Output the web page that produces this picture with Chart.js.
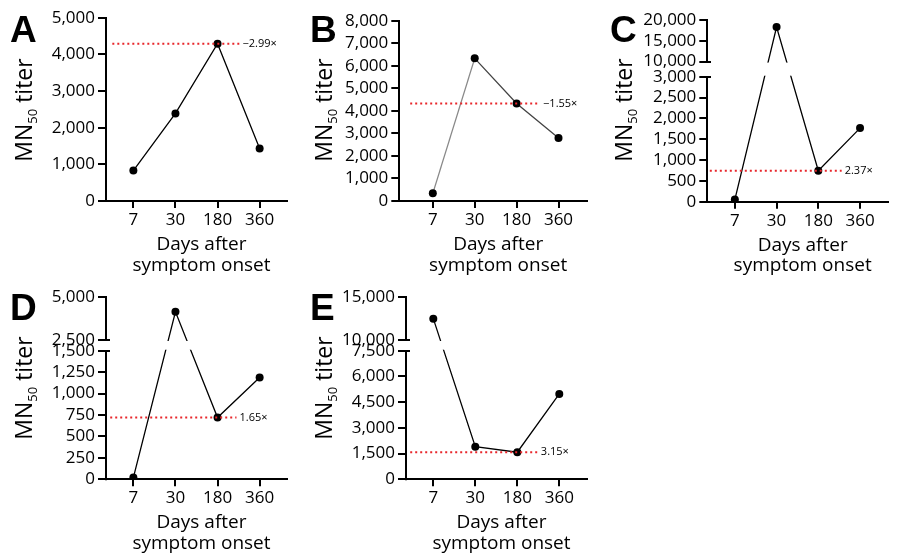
<!DOCTYPE html>
<html>
<head>
<meta charset="utf-8">
<script src="https://cdn.jsdelivr.net/npm/chart.js@4.4.1/dist/chart.umd.min.js"></script>
<style>
  body { margin: 0; background: #fff; }
  #wrap { position: relative; width: 900px; height: 556px; overflow: hidden; }
  .p { position: absolute; width: 300px; height: 278px; }
</style>
</head>
<body>
<div id="wrap">
  <div class="p" style="left:0;top:0"><canvas id="cA" width="300" height="278"></canvas></div>
  <div class="p" style="left:300px;top:0"><canvas id="cB" width="300" height="278"></canvas></div>
  <div class="p" style="left:600px;top:0"><canvas id="cC" width="300" height="278"></canvas></div>
  <div class="p" style="left:0;top:278px"><canvas id="cD" width="300" height="278"></canvas></div>
  <div class="p" style="left:300px;top:278px"><canvas id="cE" width="300" height="278"></canvas></div>
</div>
<script>
// days after symptom onset
var days = ['7', '30', '180', '360'];

// MN50 titers per patient
var titerA = [830, 2390, 4290, 1435];
var titerB = [340, 6330, 4330, 2790];
var titerC = [50, 18300, 745, 1766];
var titerD = [20, 4150, 720, 1188];
var titerE = [12500, 1900, 1580, 4980];

// fold change 180 -> 360 days (reference line sits at the 180-day titer)
var foldA = '\u22122.99\u00d7';
var foldB = '\u22121.55\u00d7';
var foldC = '2.37\u00d7';
var foldD = '1.65\u00d7';
var foldE = '3.15\u00d7';

// y tick labels
var ticksA = [0, 1000, 2000, 3000, 4000, 5000];
var ticksB = [0, 1000, 2000, 3000, 4000, 5000, 6000, 7000, 8000];
var ticksC = [0, 500, 1000, 1500, 2000, 2500, 3000, 10000, 15000, 20000];
var ticksD = [0, 250, 500, 750, 1000, 1250, 1500, 2500, 5000];
var ticksE = [0, 1500, 3000, 4500, 6000, 7500, 10000, 15000];

var FONT = '"Open Sans", "Noto Sans", sans-serif';

// linear scale with an optional break (lower part / gap / upper part)
class BrokenScale extends Chart.LinearScale {
  getPixelForValue(v) {
    var b = this.options.brk;
    if (!b || !b.lowMax) return super.getPixelForValue(v);
    var h = this.bottom - this.top;
    if (v <= b.lowMax) return this.bottom - v / b.lowMax * b.lowFrac * h;
    var hiFrac = 1 - b.lowFrac - b.gapFrac;
    return this.top + (b.highMax - v) / (b.highMax - b.highMin) * hiFrac * h;
  }
}
BrokenScale.id = 'brokenLinear';
Chart.register(BrokenScale);

function fmt(v) {
  return String(v).replace(/\B(?=(\d{3})+(?!\d))/g, ',');
}

var panels = [
  { id: 'cA', letter: 'A', data: titerA, ticks: ticksA, yMax: 5000, fold: foldA,
    area: [106, 17.7, 287, 201], xr: [-0.65, 3.65], refX: [-0.5, 2.52] },
  { id: 'cB', letter: 'B', data: titerB, ticks: ticksB, yMax: 8000, fold: foldB,
    area: [99.3, 20.7, 287, 201], xr: [-0.8, 3.68], refX: [-0.54, 2.56], grey: true },
  { id: 'cC', letter: 'C', data: titerC, ticks: ticksC, yMax: 20000, fold: foldC,
    area: [107.3, 20, 288, 201.7], xr: [-0.66, 3.67], refX: [-0.6, 2.56],
    brk: { lowMax: 3000, highMin: 10000, highMax: 20000, lowFrac: 0.688, gapFrac: 0.083 } },
  { id: 'cD', letter: 'D', data: titerD, ticks: ticksD, yMax: 5000, fold: foldD,
    area: [106, 19.3, 287, 201.3], xr: [-0.65, 3.65], refX: [-0.55, 2.45],
    brk: { lowMax: 1500, highMin: 2500, highMax: 5000, lowFrac: 0.7066, gapFrac: 0.0588 } },
  { id: 'cE', letter: 'E', data: titerE, ticks: ticksE, yMax: 15000, fold: foldE,
    area: [106, 19.3, 287, 201.3], xr: [-0.65, 3.66], refX: [-0.55, 2.49],
    brk: { lowMax: 7500, highMin: 10000, highMax: 15000, lowFrac: 0.7066, gapFrac: 0.0588 } }
];

function makePanel(p) {
  var canvas = document.getElementById(p.id);
  var W = canvas.width, H = canvas.height;
  var a = p.area;
  var ref = p.data[2];

  var deco = {
    id: 'deco',
    afterDatasetsDraw: function (chart) {
      if (!p.brk) return;
      var ctx = chart.ctx, ca = chart.chartArea, ys = chart.scales.y;
      var lo = ys.getPixelForValue(p.brk.lowMax), hi = ys.getPixelForValue(p.brk.highMin);
      ctx.save();
      ctx.fillStyle = '#fff';
      ctx.fillRect(ca.left + 2, hi + 1, ca.right - ca.left, lo - hi - 2);
      ctx.restore();
    },
    afterDraw: function (chart) {
      var ctx = chart.ctx, ca = chart.chartArea, ys = chart.scales.y, xs = chart.scales.x;
      var x = Math.round(ca.left);
      ctx.save();
      ctx.strokeStyle = '#000';
      ctx.lineWidth = 2;
      ctx.beginPath();
      if (p.brk) {
        var lo = Math.round(ys.getPixelForValue(p.brk.lowMax));
        var hi = Math.round(ys.getPixelForValue(p.brk.highMin));
        ctx.moveTo(x, ca.bottom + 1); ctx.lineTo(x, lo);
        ctx.moveTo(x - 1, lo); ctx.lineTo(x + 4, lo);
        ctx.moveTo(x, hi); ctx.lineTo(x, Math.round(ca.top) - 1);
        ctx.moveTo(x - 1, hi); ctx.lineTo(x + 4, hi);
      } else {
        ctx.moveTo(x, ca.bottom + 1); ctx.lineTo(x, Math.round(ca.top) - 1);
      }
      ctx.stroke();

      ctx.fillStyle = '#000';
      // panel letter
      ctx.font = 'bold 37px "Liberation Sans", Arial, sans-serif';
      ctx.textAlign = 'left';
      ctx.textBaseline = 'alphabetic';
      ctx.fillText(p.letter, 10, 42);

      // y title with subscript
      ctx.save();
      ctx.translate(32, 110);
      ctx.rotate(-Math.PI / 2);
      var f1 = '23px ' + FONT, f2 = '13px ' + FONT;
      ctx.font = f1; var w1 = ctx.measureText('MN').width; var w3 = ctx.measureText(' titer').width;
      ctx.font = f2; var w2 = ctx.measureText('50').width;
      var sx = -(w1 + w2 + w3) / 2;
      ctx.font = f1; ctx.fillText('MN', sx, 0);
      ctx.font = f2; ctx.fillText('50', sx + w1, 5);
      ctx.font = f1; ctx.fillText(' titer', sx + w1 + w2, 0);
      ctx.restore();

      // x title
      ctx.font = '19px ' + FONT;
      ctx.textAlign = 'center';
      var cx = (ca.left + ca.right) / 2 + 5;
      ctx.fillText('Days after', cx, ca.bottom + 49);
      ctx.fillText('symptom onset', cx, ca.bottom + 69.5);

      // fold change label
      ctx.font = '11px ' + FONT;
      ctx.textAlign = 'left';
      ctx.textBaseline = 'middle';
      ctx.fillText(p.fold, xs.getPixelForValue(p.refX[1]) + 3, ys.getPixelForValue(ref));
      ctx.restore();
    }
  };

  var main = {
    data: p.data.map(function (v, i) { return { x: i, y: v }; }),
    borderColor: '#000',
    borderWidth: 1.3,
    pointRadius: 4,
    pointBackgroundColor: '#000',
    pointBorderWidth: 0,
    order: 1
  };
  if (p.grey) {
    main.borderColor = '#444';
    main.segment = { borderColor: function (c) { return c.p0DataIndex === 0 ? '#888' : '#444'; } };
  }

  var yScale = {
    type: 'brokenLinear',
    min: 0,
    max: p.yMax,
    afterBuildTicks: function (s) { s.ticks = p.ticks.map(function (v) { return { value: v }; }); },
    afterFit: function (s) { s.width = a[0]; },
    ticks: {
      callback: function (v) { return fmt(v); },
      font: { family: FONT, size: 17 },
      color: '#000',
      padding: 3,
      autoSkip: false
    },
    grid: { drawOnChartArea: false, tickLength: 8, lineWidth: 2, color: '#000' },
    border: { display: false }
  };
  if (p.brk) yScale.brk = p.brk;

  new Chart(canvas, {
    type: 'line',
    data: {
      datasets: [
        main,
        {
          data: [{ x: p.refX[0], y: ref }, { x: p.refX[1], y: ref }],
          borderColor: '#e8262b',
          borderWidth: 2,
          borderDash: [2, 3],
          pointRadius: 0,
          order: 0
        }
      ]
    },
    options: {
      responsive: false,
      animation: false,
      events: [],
      layout: { padding: { left: 0, top: a[1], right: W - a[2], bottom: 0 } },
      plugins: { legend: { display: false }, tooltip: { enabled: false } },
      scales: {
        x: {
          type: 'linear',
          min: p.xr[0],
          max: p.xr[1],
          afterBuildTicks: function (s) { s.ticks = days.map(function (d, i) { return { value: i }; }); },
          afterFit: function (s) { s.height = H - a[3]; },
          ticks: {
            callback: function (v) { return days[v]; },
            font: { family: FONT, size: 17 },
            color: '#000',
            padding: 2,
            autoSkip: false,
            maxRotation: 0
          },
          grid: { drawOnChartArea: false, tickLength: 7, lineWidth: 2, color: '#000' },
          border: { display: true, color: '#000', width: 2 }
        },
        y: yScale
      }
    },
    plugins: [deco]
  });
}

panels.forEach(makePanel);
</script>
</body>
</html>
